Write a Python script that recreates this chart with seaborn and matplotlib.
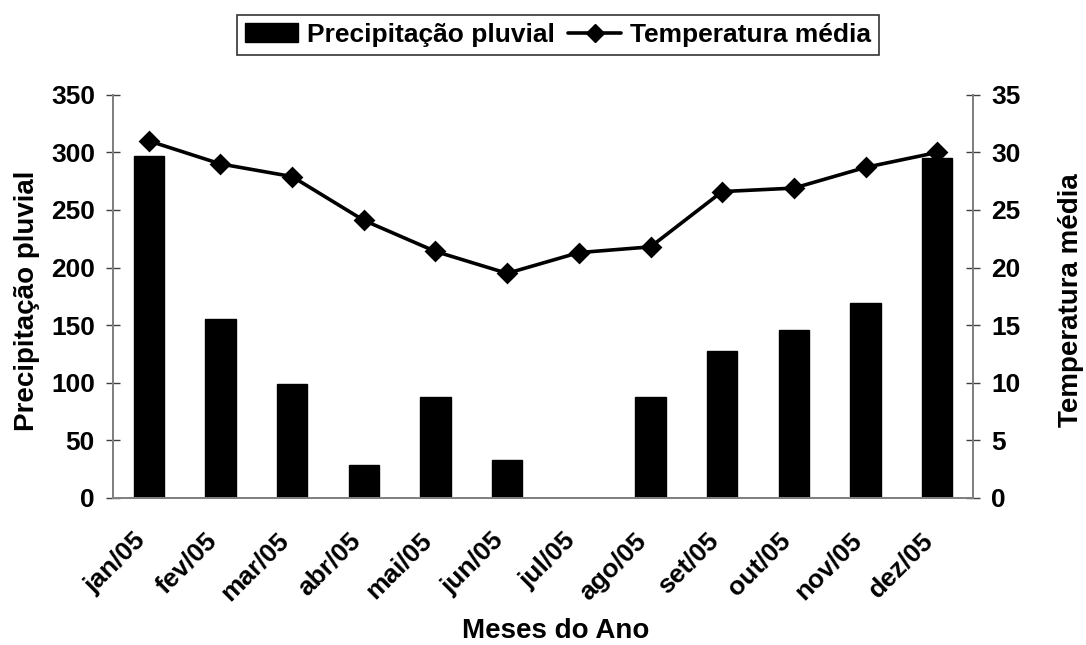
import matplotlib
matplotlib.use("Agg")
import matplotlib.pyplot as plt
import seaborn as sns
import numpy as np
import pandas as pd
from matplotlib.patches import Patch
from matplotlib.lines import Line2D

meses = ["jan/05", "fev/05", "mar/05", "abr/05", "mai/05", "jun/05",
         "jul/05", "ago/05", "set/05", "out/05", "nov/05", "dez/05"]
precipitacao = [297, 155, 99, 29, 88, 33, 0, 88, 128, 146, 169, 295]
temperatura = [31.0, 29.0, 27.9, 24.1, 21.4, 19.5, 21.3, 21.8, 26.6, 26.9, 28.7, 30.0]

sns.set_style("white")
plt.rcParams["font.family"] = ["Liberation Sans", "DejaVu Sans"]
plt.rcParams["font.weight"] = "bold"
plt.rcParams["text.color"] = "black"
plt.rcParams["axes.labelcolor"] = "black"
plt.rcParams["xtick.labelcolor"] = "black"
plt.rcParams["ytick.labelcolor"] = "black"

df = pd.DataFrame({"mes": meses, "prec": precipitacao, "temp": temperatura})

fig = plt.figure(figsize=(10.86, 6.45), dpi=100)
ax = fig.add_axes([0.104, 0.228, 0.792, 0.625])

sns.barplot(data=df, x="mes", y="prec", color="black", width=0.42,
            saturation=1, ax=ax)
for p in ax.patches:
    p.set_edgecolor("black")

ax2 = ax.twinx()
sns.pointplot(data=df, x="mes", y="temp", color="black", markers="D",
              linewidth=2.6, markersize=9, ax=ax2)

ax.set_xlim(-0.5, 11.5)
ax.set_ylim(0, 350)
ax2.set_ylim(0, 35)
ax.set_yticks(np.arange(0, 351, 50))
ax2.set_yticks(np.arange(0, 36, 5))

fs = 19
# label anchors sit slightly left of the category centre (Excel-style)
ax.set_xticks(np.arange(len(meses)) - 0.22)
ax.set_xticklabels(meses, rotation=45, ha="right", rotation_mode="anchor",
                   fontsize=fs, fontweight="bold", color="black")
ax.set_xticks(np.arange(-0.5, len(meses), 1), minor=True)
ax.tick_params(axis="x", which="major", length=0, pad=22)
ax.tick_params(axis="x", which="minor", length=9, direction="inout",
               color="#404040", width=1)
ax.tick_params(axis="y", length=10, direction="inout", color="#404040",
               width=1, labelsize=fs, pad=8, labelcolor="black")
ax2.tick_params(axis="y", length=10, direction="inout", color="#404040",
                width=1, labelsize=fs, pad=8, labelcolor="black")
for lab in ax.get_yticklabels() + ax2.get_yticklabels():
    lab.set_fontweight("bold")

for a in (ax, ax2):
    for s in a.spines.values():
        s.set_color("#808080")
        s.set_linewidth(1.3)
    a.spines["top"].set_visible(False)

ax.set_xlabel("Meses do Ano", fontsize=fs + 1, fontweight="bold",
              color="black")
ax.xaxis.set_label_coords(0.515, -0.299)
ax.set_ylabel("Precipitação pluvial", fontsize=fs + 1, fontweight="bold",
              color="black")
ax.yaxis.set_label_coords(-0.085, 0.488)
ax2.set_ylabel("Temperatura média", fontsize=fs + 1, fontweight="bold",
               rotation=90, color="black")
ax2.yaxis.set_label_coords(1.099, 0.49)

handles = [Patch(facecolor="black", edgecolor="black"),
           Line2D([0], [0], color="black", lw=2.6, marker="D", markersize=9)]
leg = fig.legend(handles, ["Precipitação pluvial", "Temperatura média"],
                 loc="center", bbox_to_anchor=(0.514, 0.946), ncol=2,
                 frameon=True, fancybox=False,
                 prop={"weight": "bold", "size": fs},
                 handlelength=2.0, handletextpad=0.35, columnspacing=0.5,
                 borderpad=0.3)
leg.get_frame().set_edgecolor("black")
leg.get_frame().set_linewidth(1.2)
for t in leg.get_texts():
    t.set_color("black")

fig.savefig("out.png", dpi=100)
